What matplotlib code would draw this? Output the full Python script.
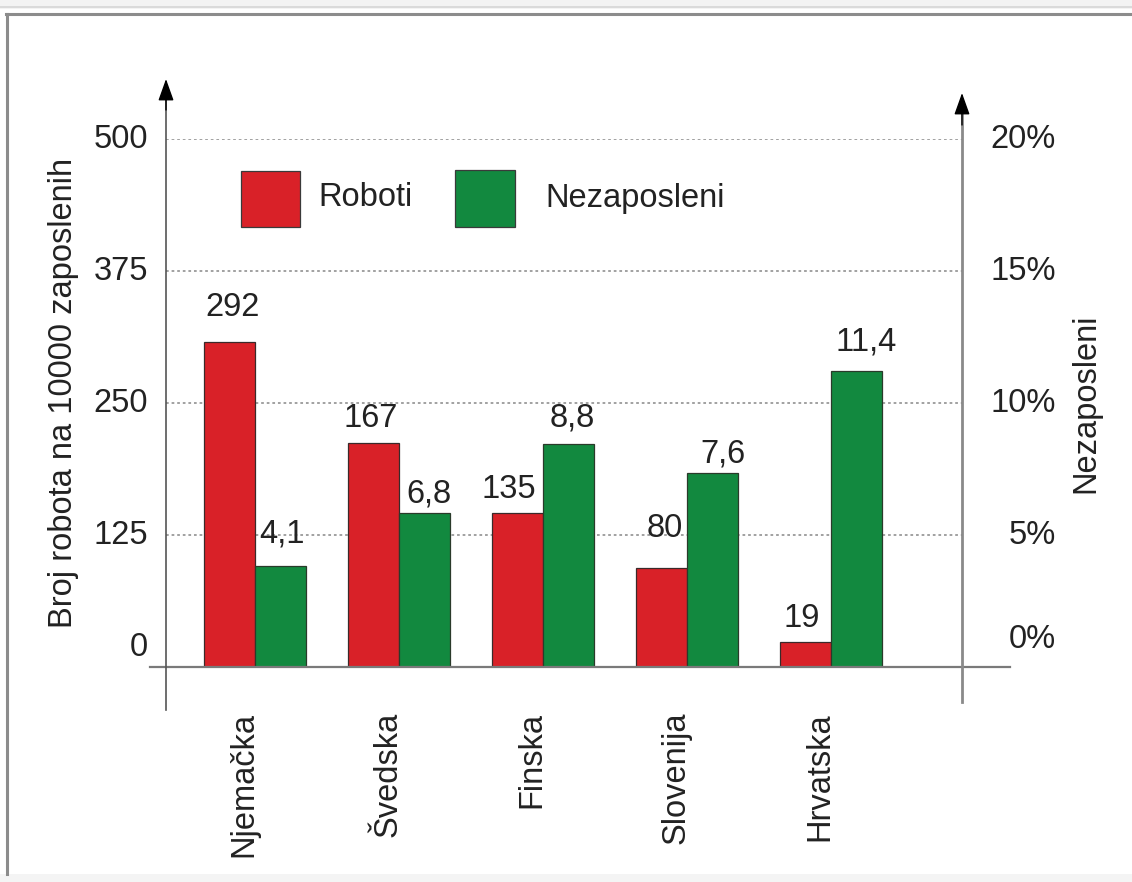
import matplotlib
matplotlib.use("Agg")
import matplotlib.pyplot as plt
from matplotlib.lines import Line2D
from matplotlib.patches import Rectangle, ArrowStyle
from matplotlib.transforms import IdentityTransform, offset_copy

plt.rcParams['font.family'] = ['Liberation Sans', 'DejaVu Sans']

# ---- data ----
countries = ["Njemačka", "Švedska", "Finska", "Slovenija", "Hrvatska"]
robots_bar = [308, 212, 146, 94, 24]          # bar heights as drawn (left axis units)
robots_labels = ["292", "167", "135", "80", "19"]
unemp_bar = [3.83, 5.83, 8.45, 7.35, 11.2]    # bar heights as drawn (%)
unemp_labels = ["4,1", "6,8", "8,8", "7,6", "11,4"]
left_ticks = [0, 125, 250, 375, 500]
left_ticklabels = ["0", "125", "250", "375", "500"]
right_ticks = [0, 5, 10, 15, 20]
right_ticklabels = ["0%", "5%", "10%", "15%", "20%"]
series_names = ["Roboti", "Nezaposleni"]
ylabel_left = "Broj robota na 10000 zaposlenih"
ylabel_right = "Nezaposleni"

# ---- style ----
W, H = 1132, 882
RED = "#d92128"
GREEN = "#12893f"
TXT = "#222222"
FS = 23.5

fig = plt.figure(figsize=(W / 100, H / 100), dpi=100)
fig.patch.set_facecolor("white")

def fy(py):
    return H - py

ax_left, ax_right, ax_bot, ax_top = 166, 962, 667, 139
ax = fig.add_axes([ax_left / W, 1 - ax_bot / H, (ax_right - ax_left) / W, (ax_bot - ax_top) / H])
px_per_unit = 144.0
x0_px = 255.0
ax.set_xlim((ax_left - x0_px) / px_per_unit, (ax_right - x0_px) / px_per_unit)
ax.set_ylim(0, 500)
ax.axis("off")
ax2 = ax.twinx()
ax2.set_ylim(0, 20)
ax2.axis("off")
ax2.set_xlim(ax.get_xlim())

xs = list(range(len(countries)))
w = 51 / px_per_unit

# grid
ax.hlines(left_ticks[1:], ax.get_xlim()[0], ax.get_xlim()[1], colors="#9a9a9a",
          linestyles=(0, (1.5, 1.6)), linewidth=1.3, zorder=1)

b1 = ax.bar([x - w / 2 for x in xs], robots_bar, width=w, color=RED,
            edgecolor="#3a2a2a", linewidth=0.9, zorder=3, label=series_names[0])
b2 = ax2.bar([x + w / 2 for x in xs], unemp_bar, width=w, color=GREEN,
             edgecolor="#2a3a2a", linewidth=0.9, zorder=3, label=series_names[1])

# value labels (offsets in pixels: dx, gap above bar)
red_offsets = [(3, 26), (-3, 16), (-9, 15), (3, 31), (-4, 15)]
green_offsets = [(2, 23), (4, 11), (4, 17), (10, 10), (10, 21)]
for x, h, lab, (dx, dy) in zip(xs, robots_bar, robots_labels, red_offsets):
    ax.annotate(lab, xy=(x - w / 2, h), xytext=(dx, dy), textcoords="offset pixels",
                ha="center", va="baseline", fontsize=FS, color=TXT, zorder=5)
for x, h, lab, (dx, dy) in zip(xs, unemp_bar, unemp_labels, green_offsets):
    ax2.annotate(lab, xy=(x + w / 2, h), xytext=(dx, dy), textcoords="offset pixels",
                 ha="center", va="baseline", fontsize=FS, color=TXT, zorder=5)

# category labels
for x, name in zip(xs, countries):
    ax.annotate(name, xy=(x, 0), xytext=(-11, -45), textcoords="offset pixels",
                ha="center", va="top", rotation=90, fontsize=FS, color=TXT,
                annotation_clip=False)

# tick labels
ytr = ax.get_yaxis_transform()
for t, lab in zip(left_ticks, left_ticklabels):
    dy = 20 if t == 0 else 0
    ax.text((148 - ax_left) / (ax_right - ax_left), t, lab,
            transform=offset_copy(ytr, fig=fig, x=0, y=dy, units="dots"),
            ha="right", va="center", fontsize=FS, color=TXT, clip_on=False)
ytr2 = ax2.get_yaxis_transform()
for t, lab in zip(right_ticks, right_ticklabels):
    dy = 27 if t == 0 else 0
    ax2.text((1056 - ax_left) / (ax_right - ax_left), t, lab,
             transform=offset_copy(ytr2, fig=fig, x=0, y=dy, units="dots"),
             ha="right", va="center", fontsize=FS, color=TXT, clip_on=False)

# axis titles
fig.text(64 / W, 1 - 393 / H, ylabel_left, rotation=90, ha="center", va="center",
         fontsize=FS, color=TXT)
fig.text(1086 / W, 1 - 403 / H, ylabel_right, rotation=90, ha="center", va="center",
         fontsize=FS, color=TXT)

# axes lines
I = IdentityTransform()
fig.add_artist(Line2D([150, 1010], [fy(667), fy(667)], transform=I, color="#7a7a7a", lw=1.6))
fig.add_artist(Line2D([962, 962], [fy(100), fy(702)], transform=I, color="#8a8a8a", lw=2.0))
fig.add_artist(Line2D([166, 166], [fy(95), fy(710)], transform=I, color="#555555", lw=1.2))
style = ArrowStyle("-|>", head_length=0.42, head_width=0.15)
fig.add_artist(plt.Annotation("", xy=(166, fy(79)), xycoords="figure pixels",
                              xytext=(166, fy(110)), textcoords="figure pixels",
                              arrowprops=dict(arrowstyle=style, color="black", lw=1.0,
                                              mutation_scale=32, shrinkA=0, shrinkB=0)))
fig.add_artist(plt.Annotation("", xy=(962, fy(93)), xycoords="figure pixels",
                              xytext=(962, fy(125)), textcoords="figure pixels",
                              arrowprops=dict(arrowstyle=style, color="black", lw=1.0,
                                              mutation_scale=32, shrinkA=0, shrinkB=0)))

# legend (drawn as keyed patches with labels)
legend_boxes = [(241, 171, 59, 56, RED, 318), (455, 170, 60, 57, GREEN, 545)]
for (lx, ly, lw_, lh, col, tx), name in zip(legend_boxes, series_names):
    fig.add_artist(Rectangle((lx, fy(ly + lh)), lw_, lh, transform=I, facecolor=col,
                             edgecolor="#3a3a3a", linewidth=0.9))
    fig.text(tx / W, 1 - 198 / H, name, ha="left", va="center", fontsize=FS, color=TXT)

# outer frame
fig.add_artist(Rectangle((0, fy(9)), W, 9, transform=I, facecolor="#f3f3f3", edgecolor="none"))
fig.add_artist(Line2D([0, W], [fy(7), fy(7)], transform=I, color="#d5d5d5", lw=1.2))
fig.add_artist(Line2D([6, W], [fy(14), fy(14)], transform=I, color="#8c8c8c", lw=2.2))
fig.add_artist(Line2D([7, 7], [fy(14), fy(874)], transform=I, color="#8c8c8c", lw=2.2))
fig.add_artist(Rectangle((0, 0), W, 8, transform=I, facecolor="#f4f4f4", edgecolor="none"))

fig.savefig("out.png", dpi=100)
